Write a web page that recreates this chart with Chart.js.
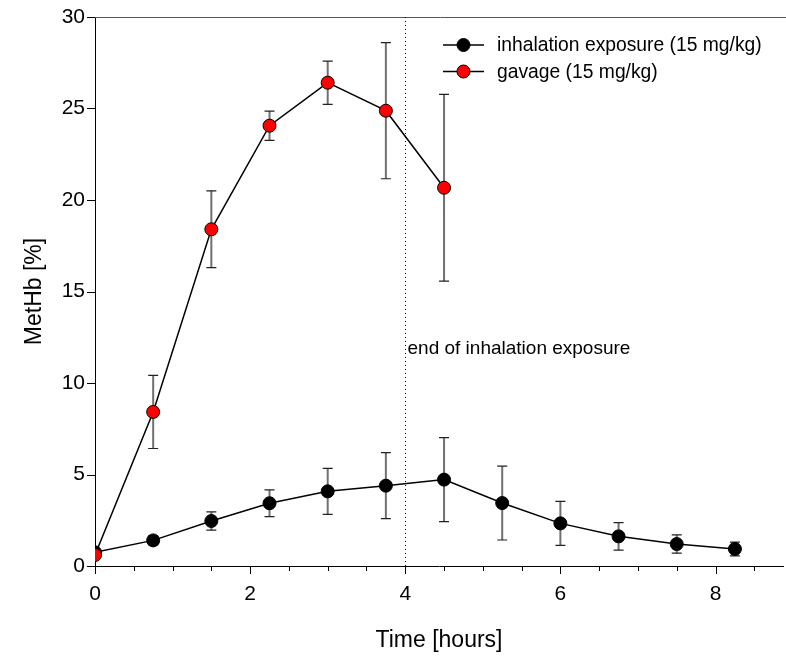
<!DOCTYPE html>
<html>
<head>
<meta charset="utf-8">
<script src="https://cdn.jsdelivr.net/npm/chart.js@4/dist/chart.umd.min.js"></script>
<style>
  body { margin: 0; background: #fff; }
  canvas { display: block; }
</style>
</head>
<body>
<canvas id="metChart" width="786" height="658"></canvas>
<script>
// values
const inhalTime = [0, 0.75, 1.5, 2.25, 3, 3.75, 4.5, 5.25, 6, 6.75, 7.5, 8.25];
const inhalMean = [0.75, 1.4, 2.46, 3.43, 4.08, 4.39, 4.72, 3.44, 2.33, 1.62, 1.2, 0.93];
const inhalErr  = [0, 0.25, 0.5, 0.73, 1.26, 1.8, 2.3, 2.02, 1.2, 0.75, 0.5, 0.38];

const gavageTime = [0, 0.75, 1.5, 2.25, 3, 3.75, 4.5];
const gavageMean = [0.6, 8.42, 18.4, 24.06, 26.41, 24.88, 20.67];
const gavageErr  = [0, 2.0, 2.1, 0.8, 1.18, 3.72, 5.1];

const xTicks = [0, 2, 4, 6, 8];
const yTicks = [0, 5, 10, 15, 20, 25, 30];
const exposureEnd = 4;

const FONT = "'Liberation Sans', Arial, sans-serif";

function pts(xs, ys) {
    return xs.map((x, i) => ({ x: x, y: ys[i] }));
}

// error bars, drawn under the markers
const errorBars = {
    id: 'errorBars',
    beforeDatasetsDraw(chart) {
        const ctx = chart.ctx;
        const xs = chart.scales.x, ys = chart.scales.y;
        const sets = [[gavageTime, gavageMean, gavageErr], [inhalTime, inhalMean, inhalErr]];
        ctx.save();
        sets.forEach(([t, m, e]) => {
            t.forEach((tv, i) => {
                if (!e[i]) return;
                const px = xs.getPixelForValue(tv);
                const top = ys.getPixelForValue(m[i] + e[i]);
                const bot = ys.getPixelForValue(m[i] - e[i]);
                ctx.strokeStyle = '#707070';
                ctx.lineWidth = 2;
                ctx.beginPath();
                ctx.moveTo(px, top); ctx.lineTo(px, bot);
                ctx.stroke();
                ctx.strokeStyle = '#222';
                ctx.lineWidth = 1.2;
                ctx.beginPath();
                ctx.moveTo(px - 5, top); ctx.lineTo(px + 5, top);
                ctx.moveTo(px - 5, bot); ctx.lineTo(px + 5, bot);
                ctx.stroke();
            });
        });
        ctx.restore();
    }
};

// axis ticks, top rule, dotted line, note, legend
const decorations = {
    id: 'decorations',
    afterDraw(chart) {
        const ctx = chart.ctx;
        const xs = chart.scales.x, ys = chart.scales.y;
        const a = chart.chartArea;
        ctx.save();
        ctx.strokeStyle = '#000';
        ctx.lineWidth = 1;
        ctx.beginPath();
        for (let v = 0; v <= 8.5; v += 0.5) {
            const px = Math.round(xs.getPixelForValue(v)) + 0.5;
            const len = (v % 2 === 0) ? 8 : 5;
            ctx.moveTo(px, a.bottom); ctx.lineTo(px, a.bottom + len);
        }
        yTicks.forEach(v => {
            const py = Math.round(ys.getPixelForValue(v)) + 0.5;
            ctx.moveTo(a.left - 8, py); ctx.lineTo(a.left, py);
        });
        ctx.stroke();

        // top rule
        ctx.strokeStyle = '#555';
        ctx.beginPath();
        ctx.moveTo(a.left, Math.round(a.top) + 0.5);
        ctx.lineTo(chart.width, Math.round(a.top) + 0.5);
        ctx.stroke();

        // dotted line at end of exposure
        const ex = Math.round(xs.getPixelForValue(exposureEnd)) + 0.5;
        ctx.strokeStyle = '#000';
        ctx.setLineDash([1, 3]);
        ctx.beginPath();
        ctx.moveTo(ex, a.top); ctx.lineTo(ex, a.bottom);
        ctx.stroke();
        ctx.setLineDash([]);

        ctx.fillStyle = '#000';
        ctx.font = '19px ' + FONT;
        ctx.textBaseline = 'middle';
        ctx.textAlign = 'left';
        ctx.fillText('end of inhalation exposure', ex + 2, 349);

        // legend
        ctx.font = '19.3px ' + FONT;
        const items = [chart.data.datasets[1], chart.data.datasets[0]];
        items.forEach((ds, i) => {
            const y = 45 + i * 26.5;
            ctx.strokeStyle = '#000';
            ctx.lineWidth = 1.5;
            ctx.beginPath();
            ctx.moveTo(443, y); ctx.lineTo(484, y);
            ctx.stroke();
            ctx.beginPath();
            ctx.arc(463.5, y, 6.5, 0, Math.PI * 2);
            ctx.fillStyle = ds.pointBackgroundColor;
            ctx.fill();
            ctx.lineWidth = 1;
            ctx.stroke();
            ctx.fillStyle = '#000';
            ctx.fillText(ds.label, 497, y + 1);
        });
        ctx.restore();
    }
};

const ctx = document.getElementById('metChart').getContext('2d');
const metChart = new Chart(ctx, {
    type: 'scatter',
    data: {
        datasets: [{
            label: 'gavage (15 mg/kg)',
            data: pts(gavageTime, gavageMean),
            showLine: true,
            borderColor: '#000',
            borderWidth: 1.5,
            pointRadius: 6.5,
            pointBackgroundColor: '#ff0000',
            pointBorderColor: '#000',
            pointBorderWidth: 1
        }, {
            label: 'inhalation exposure (15 mg/kg)',
            data: pts(inhalTime, inhalMean),
            showLine: true,
            borderColor: '#000',
            borderWidth: 1.5,
            pointRadius: 6.5,
            pointBackgroundColor: '#000000',
            pointBorderColor: '#000',
            pointBorderWidth: 1
        }]
    },
    options: {
        responsive: false,
        animation: false,
        layout: { autoPadding: false, padding: { top: 17, right: 3, left: 0, bottom: 0 } },
        plugins: {
            legend: { display: false },
            tooltip: { enabled: false }
        },
        scales: {
            x: {
                type: 'linear',
                min: 0,
                max: 8.87,
                afterFit: s => {
                    s.height = 92;
                    s.paddingLeft = 0;
                    s.paddingRight = 0;
                },
                afterBuildTicks: s => { s.ticks = xTicks.map(v => ({ value: v })); },
                grid: { drawOnChartArea: false, drawTicks: false },
                border: { display: true, color: '#000', width: 1 },
                ticks: {
                    color: '#000',
                    padding: 16,
                    font: { family: FONT, size: 21 }
                },
                title: {
                    display: true,
                    text: 'Time [hours]',
                    color: '#000',
                    font: { family: FONT, size: 23 },
                    padding: { top: 0 }
                }
            },
            y: {
                min: 0,
                max: 30,
                afterFit: s => {
                    s.width = 95;
                    s.paddingTop = 0;
                    s.paddingBottom = 0;
                },
                afterBuildTicks: s => { s.ticks = yTicks.map(v => ({ value: v })); },
                grid: { drawOnChartArea: false, drawTicks: false },
                border: { display: true, color: '#000', width: 1 },
                ticks: {
                    color: '#000',
                    padding: 10,
                    font: { family: FONT, size: 21 }
                },
                title: {
                    display: true,
                    text: 'MetHb [%]',
                    color: '#000',
                    font: { family: FONT, size: 23 },
                    padding: { top: 21, bottom: 0 }
                }
            }
        }
    },
    plugins: [errorBars, decorations]
});
</script>
</body>
</html>
